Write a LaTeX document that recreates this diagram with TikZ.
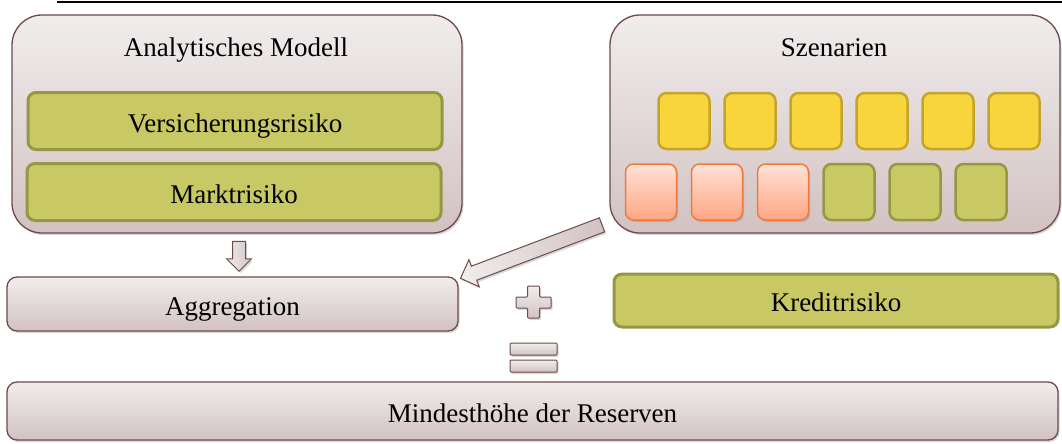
\documentclass[tikz,border=0pt]{standalone}
\usepackage{fontspec}
\setmainfont{Liberation Serif}
\usetikzlibrary{positioning}
\usetikzlibrary{calc}
\usetikzlibrary{shapes.arrows}
\usetikzlibrary{shadows}
\definecolor{boxtop}{HTML}{F1EDED}
\definecolor{boxbot}{HTML}{D2C2C2}
\definecolor{boxline}{HTML}{6E4A4A}
\definecolor{olivefill}{HTML}{C8C865}
\definecolor{oliveline}{HTML}{979743}
\definecolor{yellowfill}{HTML}{F8D53C}
\definecolor{yellowline}{HTML}{C4A42C}
\definecolor{salmontop}{HTML}{FFE2D8}
\definecolor{salmonbot}{HTML}{FFA683}
\definecolor{salmonline}{HTML}{EE7A3C}
\tikzset{txt/.style = {text height = 24pt, text depth = 2pt}}
\tikzset{softshadow/.style = {drop shadow = {shadow xshift = 1.5pt, shadow yshift = -2pt, opacity = 0.25, fill = black!60}}}
\tikzset{bigbox/.style = {draw = boxline, line width = 1.3pt, top color = boxtop, bottom color = boxbot, rounded corners = 30pt, minimum width = 450pt, minimum height = 218pt, softshadow}}
\tikzset{flatbox/.style = {txt, draw = boxline, line width = 1.3pt, top color = boxtop, bottom color = boxbot, rounded corners = 10pt, softshadow}}
\tikzset{riskbar/.style = {txt, draw = oliveline, line width = 3pt, fill = olivefill, rounded corners = 8pt, minimum width = 414pt, minimum height = 57pt}}
\tikzset{tile/.style = {line width = 2.5pt, rounded corners = 8pt, minimum width = 51pt, minimum height = 56pt}}
\tikzset{blockarr/.style = {single arrow, draw = boxline, line width = 1pt, left color = boxtop, right color = boxbot, inner xsep = 0pt, single arrow tip angle = 90, softshadow}}
\tikzset{symb/.style = {draw = boxline, line width = 1pt, top color = boxtop, bottom color = boxbot, rounded corners = 1pt, softshadow}}
\newcommand{\blockarrow}[3]{%
  \path let \p1 = ($(#2) - (#1)$), \n2 = {veclen(\x1, \y1)} in
    (#1) -- node [blockarr, #3, sloped, allow upside down, minimum height = \n2] {} (#2);}

\begin{document}
\begin{tikzpicture}[x = 1pt, y = -1pt, font = \fontsize{27}{32}\selectfont]
    \useasboundingbox (0, 0) rectangle (1062, 444);
    \draw [line width = 2pt] (57, 2) -- (1062, 2);

    \node [bigbox] (modell) at (237, 124) {};
    \node [txt] (modelltxt) at (236, 45.5) {Analytisches Modell};
    \node [riskbar] (vers) at (235, 121) {Versicherungsrisiko};
    \node [riskbar] (markt) at (234, 192) {Marktrisiko};

    \node [bigbox] (szen) at (835, 124) {};
    \node [txt] (szentxt) at (834, 45.5) {Szenarien};
    \foreach \i in {0, ..., 5}
      \node [tile, draw = yellowline, fill = yellowfill] (y\i) at (684 + 66 * \i, 121) {};
    \foreach \i in {0, 1, 2}
      \node [tile, line width = 1.5pt, draw = salmonline, top color = salmontop, bottom color = salmonbot, softshadow] (s\i) at (651 + 66 * \i, 192) {};
    \foreach \i in {3, 4, 5}
      \node [tile, draw = oliveline, fill = olivefill] (g\i) at (651 + 66 * \i, 192) {};

    \node [flatbox, minimum width = 451pt, minimum height = 54pt] (aggr) at (232.5, 304) {Aggregation};
    \node [riskbar, minimum width = 444pt, minimum height = 53pt] (kredit) at (836, 300.5) {Kreditrisiko};
    \node [flatbox, minimum width = 1051pt, minimum height = 58pt] (mind) at (532.5, 411) {Mindesth\"ohe der Reserven};

    \coordinate (dtail) at (239, 238);
    \coordinate (dhead) at (239, 268);
    \coordinate (stail) at (605.5, 223.5);
    \coordinate (shead) at (464, 277);
    \blockarrow{dtail}{dhead}{inner ysep = 6pt, single arrow head extend = 6pt}
    \blockarrow{stail}{shead}{inner ysep = 7pt, single arrow head extend = 7pt}

    % plus and equals
    \path [symb] (527.5, 286) -- (539.5, 286) -- (539.5, 297) -- (551, 297) -- (551, 308)
      -- (539.5, 308) -- (539.5, 318) -- (527.5, 318) -- (527.5, 308) -- (516, 308)
      -- (516, 297) -- (527.5, 297) -- cycle;
    \path [symb] (510, 343) rectangle (557, 355);
    \path [symb] (510, 360) rectangle (557, 372);
  \end{tikzpicture}
\end{document}
